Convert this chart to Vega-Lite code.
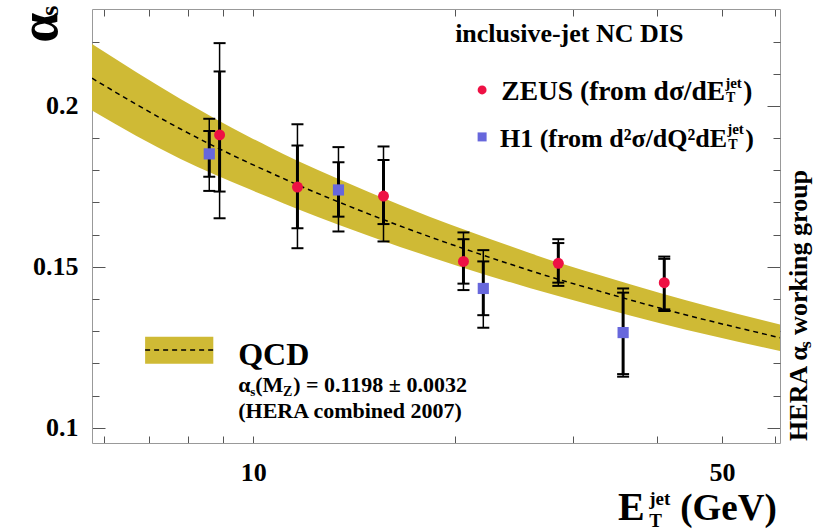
{
  "$schema": "https://vega.github.io/schema/vega-lite/v6.json",
  "width": 688,
  "height": 434,
  "autosize": {"type": "none"},
  "padding": {"left": 92, "top": 9, "right": 40, "bottom": 89},
  "background": "white",
  "config": {
    "view": {"stroke": null},
    "text": {"font": "Liberation Serif", "fontWeight": "bold", "color": "black", "align": "left", "baseline": "alphabetic"}
  },
  "datasets": {
    "band": [
      {"et": 5.75, "lo": 0.1986, "mid": 0.2086, "hi": 0.2192},
      {"et": 7.78, "lo": 0.1836, "mid": 0.1929, "hi": 0.2022},
      {"et": 9.9, "lo": 0.1740, "mid": 0.1821, "hi": 0.1902},
      {"et": 10.6, "lo": 0.1715, "mid": 0.1793, "hi": 0.1871},
      {"et": 11.64, "lo": 0.1680, "mid": 0.1755, "hi": 0.1830},
      {"et": 13.4, "lo": 0.1631, "mid": 0.1702, "hi": 0.1773},
      {"et": 16.56, "lo": 0.1562, "mid": 0.1627, "hi": 0.1692},
      {"et": 18.36, "lo": 0.1531, "mid": 0.1593, "hi": 0.1655},
      {"et": 24.2, "lo": 0.1452, "mid": 0.1508, "hi": 0.1564},
      {"et": 25.9, "lo": 0.1434, "mid": 0.1488, "hi": 0.1542},
      {"et": 32.9, "lo": 0.1374, "mid": 0.1424, "hi": 0.1474},
      {"et": 40.4, "lo": 0.1325, "mid": 0.1372, "hi": 0.1419},
      {"et": 61, "lo": 0.1239, "mid": 0.1280, "hi": 0.1321}
    ],
    "points": [
      {"exp": "ZEUS", "et": 8.91, "a": 0.1910, "in_lo": 0.1734, "in_hi": 0.2107, "out_lo": 0.1651, "out_hi": 0.2195},
      {"exp": "ZEUS", "et": 11.64, "a": 0.1748, "in_lo": 0.1620, "in_hi": 0.1877, "out_lo": 0.1558, "out_hi": 0.1943},
      {"exp": "ZEUS", "et": 15.64, "a": 0.1720, "in_lo": 0.1633, "in_hi": 0.1832, "out_lo": 0.1579, "out_hi": 0.1874},
      {"exp": "ZEUS", "et": 20.58, "a": 0.1517, "in_lo": 0.1448, "in_hi": 0.1586, "out_lo": 0.1428, "out_hi": 0.1607},
      {"exp": "ZEUS", "et": 28.5, "a": 0.1511, "in_lo": 0.1451, "in_hi": 0.1574, "out_lo": 0.1441, "out_hi": 0.1586},
      {"exp": "ZEUS", "et": 41.0, "a": 0.1451, "in_lo": 0.1368, "in_hi": 0.1525, "out_lo": 0.1363, "out_hi": 0.1532},
      {"exp": "H1", "et": 8.60, "a": 0.1851, "in_lo": 0.1780, "in_hi": 0.1922, "out_lo": 0.1736, "out_hi": 0.1960},
      {"exp": "H1", "et": 13.40, "a": 0.1739, "in_lo": 0.1656, "in_hi": 0.1825, "out_lo": 0.1610, "out_hi": 0.1872},
      {"exp": "H1", "et": 22.03, "a": 0.1433, "in_lo": 0.1350, "in_hi": 0.1517, "out_lo": 0.1311, "out_hi": 0.1552},
      {"exp": "H1", "et": 35.6, "a": 0.1296, "in_lo": 0.1167, "in_hi": 0.1420, "out_lo": 0.1159, "out_hi": 0.1433}
    ]
  },
  "layer": [
    {
      "data": {"values": [{}]},
      "layer": [
        {
          "data": {"name": "band"},
          "mark": {"type": "area", "color": "#cfba35", "interpolate": "monotone", "clip": true},
          "encoding": {
            "x": {
              "field": "et", "type": "quantitative",
              "scale": {"type": "log", "domain": [5.75, 61], "nice": false},
              "axis": {
                "orient": "bottom", "title": null, "grid": false,
                "values": [6, 7, 8, 9, 10, 20, 30, 40, 50, 60],
                "format": "d", "labelOverlap": false,
                "labelExpr": "(datum.value == 10 || datum.value == 50) ? datum.label : ''",
                "tickSize": -7, "tickColor": "#555", "tickWidth": 1,
                "domainColor": "#999", "domainWidth": 1,
                "labelFont": "Liberation Serif", "labelFontWeight": "bold", "labelFontSize": 26,
                "labelColor": "black", "labelPadding": 23, "labelBaseline": "top"
              }
            },
            "y": {
              "field": "lo", "type": "quantitative",
              "scale": {"domain": [0.0953, 0.2301], "nice": false, "zero": false},
              "axis": {
                "orient": "left", "title": null, "grid": false,
                "values": [0.1, 0.15, 0.2],
                "format": ".2~f", "labelOverlap": false,
                "tickSize": -13, "tickColor": "#555", "tickWidth": 1,
                "domainColor": "#999", "domainWidth": 1,
                "labelFont": "Liberation Serif", "labelFontWeight": "bold", "labelFontSize": 26,
                "labelColor": "black", "labelPadding": 27
              }
            },
            "y2": {"field": "hi"}
          }
        },
        {
          "data": {"name": "band"},
          "mark": {"type": "line", "color": "black", "strokeWidth": 1.5, "strokeDash": [5, 4], "interpolate": "monotone", "clip": true},
          "encoding": {
            "x": {"field": "et", "type": "quantitative"},
            "y": {"field": "mid", "type": "quantitative"}
          }
        },
        {
          "data": {"name": "points"},
          "mark": {"type": "rule", "color": "black", "strokeWidth": 1.5},
          "encoding": {
            "x": {"field": "et", "type": "quantitative"},
            "y": {"field": "out_lo", "type": "quantitative"},
            "y2": {"field": "out_hi"}
          }
        },
        {
          "data": {"name": "points"},
          "mark": {"type": "rule", "color": "black", "strokeWidth": 3},
          "encoding": {
            "x": {"field": "et", "type": "quantitative"},
            "y": {"field": "in_lo", "type": "quantitative"},
            "y2": {"field": "in_hi"}
          }
        },
        {
          "data": {"name": "points"},
          "transform": [{"fold": ["in_lo", "in_hi", "out_lo", "out_hi"], "as": ["cap", "val"]}],
          "mark": {"type": "tick", "orient": "horizontal", "size": 12, "thickness": 2, "color": "black", "opacity": 1},
          "encoding": {
            "x": {"field": "et", "type": "quantitative"},
            "y": {"field": "val", "type": "quantitative"}
          }
        },
        {
          "mark": {"type": "point", "shape": "circle", "filled": true, "color": "#ee1144", "opacity": 1, "size": 80},
          "encoding": {
            "x": {"datum": 21.94, "type": "quantitative"},
            "y": {"datum": 0.20497, "type": "quantitative"}
          }
        },
        {
          "mark": {"type": "point", "shape": "square", "filled": true, "color": "#6767dc", "opacity": 1, "size": 81},
          "encoding": {
            "x": {"datum": 21.94, "type": "quantitative"},
            "y": {"datum": 0.19037, "type": "quantitative"}
          }
        },
        {
          "mark": {"type": "text", "text": "inclusive-jet NC DIS", "fontSize": 26},
          "encoding": {"x": {"datum": 20.0, "type": "quantitative"}, "y": {"datum": 0.21988, "type": "quantitative"}}
        },
        {
          "mark": {"type": "text", "text": "ZEUS (from dσ/dE", "fontSize": 27.5, "align": "right"},
          "encoding": {"x": {"datum": 50.53, "type": "quantitative"}, "y": {"datum": 0.20186, "type": "quantitative"}}
        },
        {
          "mark": {"type": "text", "text": "jet", "fontSize": 15},
          "encoding": {"x": {"datum": 50.53, "type": "quantitative"}, "y": {"datum": 0.20559, "type": "quantitative"}}
        },
        {
          "mark": {"type": "text", "text": "T", "fontSize": 14},
          "encoding": {"x": {"datum": 50.7, "type": "quantitative"}, "y": {"datum": 0.20124, "type": "quantitative"}}
        },
        {
          "mark": {"type": "text", "text": ")", "fontSize": 27.5},
          "encoding": {"x": {"datum": 53.77, "type": "quantitative"}, "y": {"datum": 0.20186, "type": "quantitative"}}
        },
        {
          "mark": {"type": "text", "text": "H1 (from d²σ/dQ²dE", "fontSize": 26, "align": "right"},
          "encoding": {"x": {"datum": 50.88, "type": "quantitative"}, "y": {"datum": 0.18727, "type": "quantitative"}}
        },
        {
          "mark": {"type": "text", "text": "jet", "fontSize": 15},
          "encoding": {"x": {"datum": 50.88, "type": "quantitative"}, "y": {"datum": 0.1913, "type": "quantitative"}}
        },
        {
          "mark": {"type": "text", "text": "T", "fontSize": 14},
          "encoding": {"x": {"datum": 51.05, "type": "quantitative"}, "y": {"datum": 0.18665, "type": "quantitative"}}
        },
        {
          "mark": {"type": "text", "text": ")", "fontSize": 26},
          "encoding": {"x": {"datum": 54.14, "type": "quantitative"}, "y": {"datum": 0.18727, "type": "quantitative"}}
        },
        {
          "mark": {"type": "text", "text": "QCD", "fontSize": 32},
          "encoding": {"x": {"datum": 9.498, "type": "quantitative"}, "y": {"datum": 0.11957, "type": "quantitative"}}
        },
        {
          "mark": {"type": "text", "text": "α", "fontSize": 22},
          "encoding": {"x": {"datum": 9.498, "type": "quantitative"}, "y": {"datum": 0.11118, "type": "quantitative"}}
        },
        {
          "mark": {"type": "text", "text": "s", "fontSize": 13},
          "encoding": {"x": {"datum": 9.898, "type": "quantitative"}, "y": {"datum": 0.10994, "type": "quantitative"}}
        },
        {
          "mark": {"type": "text", "text": "(M", "fontSize": 22},
          "encoding": {"x": {"datum": 10.069, "type": "quantitative"}, "y": {"datum": 0.11118, "type": "quantitative"}}
        },
        {
          "mark": {"type": "text", "text": "Z", "fontSize": 14},
          "encoding": {"x": {"datum": 11.08, "type": "quantitative"}, "y": {"datum": 0.10994, "type": "quantitative"}}
        },
        {
          "mark": {"type": "text", "text": ") = 0.1198 ± 0.0032", "fontSize": 22},
          "encoding": {"x": {"datum": 11.471, "type": "quantitative"}, "y": {"datum": 0.11118, "type": "quantitative"}}
        },
        {
          "mark": {"type": "text", "text": "(HERA combined 2007)", "fontSize": 22},
          "encoding": {"x": {"datum": 9.498, "type": "quantitative"}, "y": {"datum": 0.10311, "type": "quantitative"}}
        },
        {
          "mark": {"type": "text", "text": "α", "fontSize": 54, "angle": 270},
          "encoding": {"x": {"datum": 5.105, "type": "quantitative"}, "y": {"datum": 0.2196, "type": "quantitative"}}
        },
        {
          "mark": {"type": "text", "text": "s", "fontSize": 26, "angle": 270},
          "encoding": {"x": {"datum": 5.12, "type": "quantitative"}, "y": {"datum": 0.2280, "type": "quantitative"}}
        },
        {
          "mark": {"type": "text", "text": "E", "fontSize": 40},
          "encoding": {"x": {"datum": 34.99, "type": "quantitative"}, "y": {"datum": 0.07143, "type": "quantitative"}}
        },
        {
          "mark": {"type": "text", "text": "jet", "fontSize": 19},
          "encoding": {"x": {"datum": 38.94, "type": "quantitative"}, "y": {"datum": 0.07609, "type": "quantitative"}}
        },
        {
          "mark": {"type": "text", "text": "T", "fontSize": 19},
          "encoding": {"x": {"datum": 38.94, "type": "quantitative"}, "y": {"datum": 0.06925, "type": "quantitative"}}
        },
        {
          "mark": {"type": "text", "text": "(GeV)", "fontSize": 37},
          "encoding": {"x": {"datum": 43.3, "type": "quantitative"}, "y": {"datum": 0.07143, "type": "quantitative"}}
        },
        {
          "mark": {"type": "text", "text": "HERA α", "fontSize": 26, "angle": 270},
          "encoding": {"x": {"datum": 66.9, "type": "quantitative"}, "y": {"datum": 0.09596, "type": "quantitative"}}
        },
        {
          "mark": {"type": "text", "text": "s", "fontSize": 17, "angle": 270},
          "encoding": {"x": {"datum": 67.9, "type": "quantitative"}, "y": {"datum": 0.12484, "type": "quantitative"}}
        },
        {
          "mark": {"type": "text", "text": "working group", "fontSize": 26, "angle": 270},
          "encoding": {"x": {"datum": 66.9, "type": "quantitative"}, "y": {"datum": 0.12888, "type": "quantitative"}}
        }
      ]
    },
    {
      "data": {"name": "points"},
      "mark": {"type": "point", "filled": true, "opacity": 1},
      "encoding": {
        "x": {
          "field": "et", "type": "quantitative",
          "axis": {
            "orient": "top", "title": null, "grid": false, "labels": false,
            "values": [6, 7, 8, 9, 10, 20, 30, 40, 50, 60],
            "tickSize": -7, "tickColor": "#555", "tickWidth": 1,
            "domainColor": "#999", "domainWidth": 1
          }
        },
        "y": {
          "field": "a", "type": "quantitative",
          "axis": {
            "orient": "right", "title": null, "grid": false, "labels": false,
            "values": [0.1, 0.15, 0.2],
            "tickSize": -13, "tickColor": "#555", "tickWidth": 1,
            "domainColor": "#999", "domainWidth": 1
          }
        },
        "color": {"field": "exp", "type": "nominal", "scale": {"domain": ["ZEUS", "H1"], "range": ["#ee1144", "#6767dc"]}, "legend": null},
        "shape": {"field": "exp", "type": "nominal", "scale": {"domain": ["ZEUS", "H1"], "range": ["circle", "square"]}, "legend": null},
        "size": {"field": "exp", "type": "nominal", "scale": {"domain": ["ZEUS", "H1"], "range": [120, 125]}, "legend": null}
      }
    },
    {
      "data": {"values": [{}]},
      "mark": {"type": "rect", "color": "#cfba35"},
      "encoding": {
        "x": {"datum": 6.9, "type": "quantitative", "axis": null},
        "x2": {"datum": 8.72},
        "y": {
          "datum": 0.1283, "type": "quantitative",
          "axis": {
            "orient": "left", "title": null, "grid": false, "labels": false, "domain": false,
            "values": [0.11, 0.12, 0.13, 0.14, 0.16, 0.17, 0.18, 0.19, 0.21, 0.22],
            "tickSize": -7, "tickColor": "#555", "tickWidth": 1
          }
        },
        "y2": {"datum": 0.1199}
      }
    },
    {
      "data": {"values": [{}]},
      "mark": {"type": "rule", "color": "black", "strokeWidth": 1.5, "strokeDash": [5, 4]},
      "encoding": {
        "x": {"datum": 6.9, "type": "quantitative", "axis": null},
        "x2": {"datum": 8.72},
        "y": {
          "datum": 0.1242, "type": "quantitative",
          "axis": {
            "orient": "right", "title": null, "grid": false, "labels": false, "domain": false,
            "values": [0.11, 0.12, 0.13, 0.14, 0.16, 0.17, 0.18, 0.19, 0.21, 0.22],
            "tickSize": -7, "tickColor": "#555", "tickWidth": 1
          }
        }
      }
    }
  ],
  "resolve": {"axis": {"x": "independent", "y": "independent"}}
}
